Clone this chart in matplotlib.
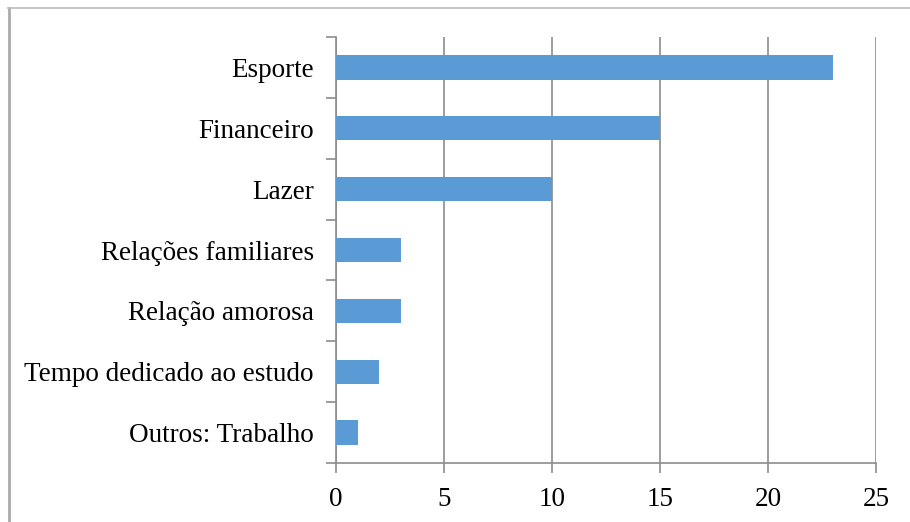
import matplotlib.pyplot as plt
from matplotlib.lines import Line2D
import numpy as np

# data (bottom to top as drawn)
categories = ["Outros: Trabalho", "Tempo dedicado ao estudo", "Relação amorosa",
              "Relações familiares", "Lazer", "Financeiro", "Esporte"]
values = [1, 2, 3, 3, 10, 15, 23]
x_ticks = [0, 5, 10, 15, 20, 25]

plt.rcParams['font.family'] = ['Liberation Serif', 'DejaVu Serif']

fig = plt.figure(figsize=(9.1, 5.22), dpi=100)
ax = fig.add_axes([336 / 910, 1 - 463 / 522, 540 / 910, 426 / 522])

y = np.arange(len(categories))
ax.barh(y, values, height=0.4, color="#5B9BD5", zorder=3)

ax.set_xlim(0, 25)
ax.set_ylim(-0.5, len(categories) - 0.5)
ax.set_xticks(x_ticks)
ax.set_xticklabels([str(t) for t in x_ticks], fontsize=19.5)
ax.xaxis.grid(True, color="#8c8c8c", linewidth=1.2, zorder=0)

# category labels without ticks, ticks between categories
ax.set_yticks(y)
ax.set_yticklabels(categories, fontsize=19.5)
ax.tick_params(axis="y", length=0, pad=16)
ax.set_yticks(np.arange(-0.5, len(categories), 1), minor=True)
ax.tick_params(axis="y", which="minor", length=7, color="#8c8c8c", width=1.2)
ax.tick_params(axis="x", length=7, color="#8c8c8c", width=1.2, pad=10)

for s in ["top", "right"]:
    ax.spines[s].set_visible(False)
for s in ["left", "bottom"]:
    ax.spines[s].set_color("#8c8c8c")
    ax.spines[s].set_linewidth(1.2)

# outer chart border (left and top edges)
fig.add_artist(Line2D([9 / 910, 9 / 910], [0, 1 - 8 / 522], color="#aaaaaa", lw=2))
fig.add_artist(Line2D([8 / 910, 1], [1 - 8 / 522, 1 - 8 / 522], color="#bbbbbb", lw=1.2))

fig.savefig("out.png", dpi=100)
